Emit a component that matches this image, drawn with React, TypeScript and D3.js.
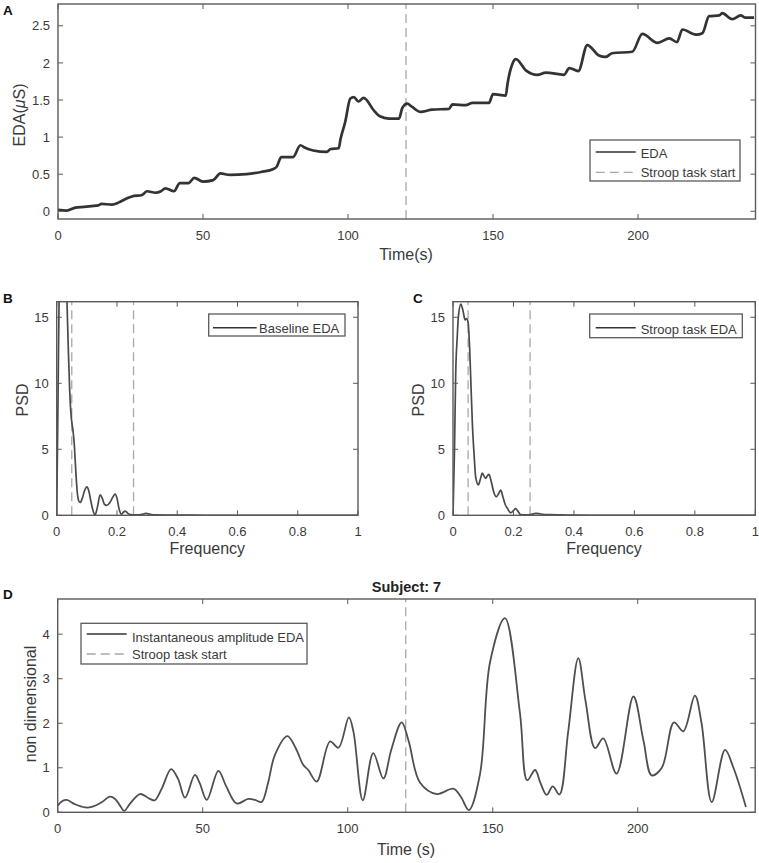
import React from 'react';
import * as d3 from 'd3';

const W = 759;
const H = 863;
const FONT = '"Liberation Sans", Arial, Helvetica, sans-serif';
const TXT = '#3a3a3a';
const AX = '#5a5a5a';
const DASH = '#a8a8a8';

// ---------- Panel A: EDA time series ----------
const edaTime = [0, 3, 6, 9, 11.6, 13.9, 15, 18.6, 21, 23, 25.5, 29, 30.7, 33.6, 35.5, 37, 40, 42, 45, 47, 50, 53.5, 56, 59.3, 65, 70, 74.3, 75.4, 77, 81, 83.6, 85, 88, 92.7, 94, 96.8, 97.4, 99, 100.8, 102, 103.6, 105.4, 108.9, 111, 114, 117.6, 118.7, 120.4, 122, 125, 129, 134.8, 136, 140.6, 142.9, 148.6, 150, 154.4, 155, 156.7, 157.9, 161.3, 165.3, 168.2, 174.5, 176.3, 179.4, 182.5, 186.5, 188.8, 191, 198, 201.5, 206.7, 210.8, 213.4, 215.3, 220, 222.2, 224.5, 228, 229, 232.5, 235.4, 237.1, 240];
const edaValue = [0.02, 0.01, 0.05, 0.06, 0.07, 0.08, 0.1, 0.09, 0.12, 0.16, 0.2, 0.22, 0.27, 0.25, 0.27, 0.31, 0.27, 0.38, 0.38, 0.45, 0.4, 0.42, 0.51, 0.49, 0.5, 0.53, 0.57, 0.6, 0.73, 0.73, 0.89, 0.86, 0.82, 0.8, 0.84, 0.85, 0.97, 1.2, 1.52, 1.54, 1.48, 1.53, 1.36, 1.28, 1.25, 1.25, 1.39, 1.45, 1.41, 1.34, 1.37, 1.38, 1.44, 1.43, 1.46, 1.46, 1.58, 1.56, 1.72, 1.99, 2.05, 1.9, 1.84, 1.87, 1.84, 1.93, 1.89, 2.24, 2.1, 2.08, 2.13, 2.15, 2.39, 2.27, 2.33, 2.28, 2.45, 2.38, 2.4, 2.63, 2.64, 2.67, 2.59, 2.64, 2.61, 2.61];
const timeTicks = [0, 50, 100, 150, 200];
const edaTicks = [0, 0.5, 1, 1.5, 2, 2.5];
const stroopStart = 120;

// ---------- Panel B: Baseline PSD ----------
const freqB = [0, 0.004, 0.008, 0.015, 0.022, 0.028, 0.034, 0.038, 0.043, 0.048, 0.053, 0.058, 0.063, 0.068, 0.073, 0.078, 0.085, 0.093, 0.1, 0.106, 0.114, 0.12, 0.127, 0.135, 0.144, 0.151, 0.158, 0.166, 0.176, 0.187, 0.194, 0.2, 0.207, 0.215, 0.222, 0.228, 0.236, 0.245, 0.26, 0.28, 0.297, 0.31, 0.33, 0.37, 0.45, 0.55, 1];
const psdB = [0, 8, 16.5, 22, 23, 20, 16.3, 13, 9.5, 7.5, 6.6, 5.5, 3.5, 1.8, 1.1, 0.97, 1.3, 1.9, 2.15, 1.9, 1.0, 0.4, 0.03, 0.6, 1.55, 1.3, 0.85, 0.75, 0.95, 1.4, 1.6, 1.3, 0.5, 0.08, 0.25, 0.32, 0.15, 0.05, 0.03, 0.06, 0.15, 0.08, 0.03, 0.02, 0.01, 0, 0];

// ---------- Panel C: Stroop PSD ----------
const freqC = [0, 0.005, 0.009, 0.014, 0.018, 0.026, 0.033, 0.04, 0.045, 0.05, 0.055, 0.06, 0.064, 0.07, 0.075, 0.084, 0.09, 0.097, 0.102, 0.108, 0.114, 0.119, 0.127, 0.136, 0.143, 0.15, 0.158, 0.165, 0.173, 0.18, 0.19, 0.2, 0.207, 0.215, 0.224, 0.24, 0.26, 0.274, 0.29, 0.32, 0.36, 0.4, 0.5, 1];
const psdC = [0, 5, 10.8, 13.5, 15.1, 16.0, 15.5, 14.8, 14.9, 14.6, 12.7, 9.5, 7.0, 4.5, 2.9, 2.3, 2.7, 3.2, 3.0, 2.8, 3.0, 3.1, 2.5, 1.67, 1.4, 1.6, 1.9, 1.4, 0.8, 0.53, 0.2, 0.35, 0.5, 0.3, 0.05, 0.03, 0.08, 0.15, 0.1, 0.05, 0.03, 0.01, 0, 0];

const freqTicks = [0, 0.2, 0.4, 0.6, 0.8, 1];
const psdTicks = [0, 5, 10, 15];
const bandLimits = [0.05, 0.255];

// ---------- Panel D: Instantaneous amplitude ----------
const ampTime = [0, 1.5, 3.1, 6, 9.4, 11.7, 15, 18, 19.8, 21.5, 22.9, 25, 28.4, 31.8, 33.5, 36, 39.1, 41.5, 43.9, 47.3, 49, 51.4, 55.4, 58, 61.7, 65.7, 68, 70.3, 72.5, 74.9, 79.2, 82, 84.7, 86.4, 89.3, 93.9, 96.8, 100.4, 102, 105.2, 108.8, 112.3, 115, 118.6, 121, 124.9, 130.7, 136.4, 139, 141.8, 145.6, 149.1, 154.2, 159.4, 161.9, 164.6, 166.5, 168.6, 170.7, 173, 176, 179.5, 182, 185.3, 188.1, 192.7, 198.5, 202, 204.8, 208.3, 212.5, 215.7, 219.7, 222, 225.5, 230.1, 233, 237.3];
const ampValue = [0.15, 0.25, 0.28, 0.18, 0.11, 0.12, 0.22, 0.35, 0.3, 0.15, 0.03, 0.2, 0.41, 0.3, 0.27, 0.55, 0.97, 0.75, 0.33, 0.84, 0.65, 0.28, 0.93, 0.6, 0.2, 0.3, 0.28, 0.23, 0.65, 1.29, 1.71, 1.45, 1.06, 0.95, 0.69, 1.59, 1.45, 2.13, 1.8, 0.27, 1.33, 0.76, 1.4, 2.02, 1.6, 0.67, 0.41, 0.53, 0.35, 0.05, 0.85, 3.38, 4.36, 2.22, 0.72, 0.95, 0.65, 0.39, 0.58, 0.4, 1.8, 3.46, 2.5, 1.44, 1.66, 0.87, 2.6, 1.6, 0.83, 1.0, 2.02, 1.82, 2.62, 2.0, 0.23, 1.4, 1.0, 0.12];
const ampTicks = [0, 1, 2, 3, 4];

type AxesProps = {
  x: d3.ScaleLinear<number, number>;
  y: d3.ScaleLinear<number, number>;
  xTicks: number[];
  yTicks: number[];
};

function Axes({ x, y, xTicks, yTicks }: AxesProps) {
  const [x0, x1] = x.range();
  const [y0, y1] = y.range();
  return (
    <g>
      {xTicks.map((t) => (
        <g key={'x' + t}>
          <line x1={x(t)} x2={x(t)} y1={y0} y2={y0 - 5} stroke={AX} strokeWidth={1} />
          <line x1={x(t)} x2={x(t)} y1={y1} y2={y1 + 5} stroke={AX} strokeWidth={1} />
          <text x={x(t)} y={y0 + 21} textAnchor="middle" fontSize={13} fill={TXT}>{String(t)}</text>
        </g>
      ))}
      {yTicks.map((t) => (
        <g key={'y' + t}>
          <line x1={x0} x2={x0 + 5} y1={y(t)} y2={y(t)} stroke={AX} strokeWidth={1} />
          <line x1={x1} x2={x1 - 5} y1={y(t)} y2={y(t)} stroke={AX} strokeWidth={1} />
          <text x={x0 - 8} y={y(t) + 4.6} textAnchor="end" fontSize={13} fill={TXT}>{String(t)}</text>
        </g>
      ))}
      <rect x={x0} y={y1} width={x1 - x0} height={y0 - y1} fill="none" stroke={AX} strokeWidth={1.4} />
    </g>
  );
}

function linePath(xs: number[], ys: number[], x: any, y: any, curve: any) {
  const pts: [number, number][] = xs.map((v, i) => [v, ys[i]]);
  return d3.line<[number, number]>().x((d) => x(d[0])).y((d) => y(d[1])).curve(curve)(pts) || '';
}

export default function App() {
  const xA = d3.scaleLinear().domain([0, 240.5]).range([58, 755.5]);
  const yA = d3.scaleLinear().domain([-0.104, 2.794]).range([219, 4]);
  const xB = d3.scaleLinear().domain([0, 1]).range([56.7, 358]);
  const yB = d3.scaleLinear().domain([0, 16.18]).range([515.3, 301.7]);
  const xC = d3.scaleLinear().domain([0, 1]).range([453, 755.3]);
  const yC = d3.scaleLinear().domain([0, 16.18]).range([515.3, 301.7]);
  const xD = d3.scaleLinear().domain([0, 240.5]).range([57.7, 755.2]);
  const yD = d3.scaleLinear().domain([0, 4.79]).range([812.3, 599]);

  const clipRect = (id: string, x: any, y: any) => {
    const [x0, x1] = x.range();
    const [y0, y1] = y.range();
    return (
      <clipPath id={id}>
        <rect x={x0} y={y1} width={x1 - x0} height={y0 - y1} />
      </clipPath>
    );
  };

  return (
    <svg width={W} height={H} style={{ position: 'absolute', left: 0, top: 0, background: '#fff' }} fontFamily={FONT}>
      <defs>
        {clipRect('clipA', xA, yA)}
        {clipRect('clipB', xB, yB)}
        {clipRect('clipC', xC, yC)}
        {clipRect('clipD', xD, yD)}
      </defs>
      <rect x={0} y={0} width={W} height={H} fill="#fff" />

      {/* Panel A */}
      <text x={3} y={15} fontSize={13.5} fontWeight="bold" fill="#111">A</text>
      <g clipPath="url(#clipA)">
        <line x1={xA(stroopStart)} x2={xA(stroopStart)} y1={yA.range()[0]} y2={yA.range()[1]} stroke={DASH} strokeWidth={1.3} strokeDasharray="9,5" />
        <path d={linePath(edaTime, edaValue, xA, yA, d3.curveMonotoneX)} fill="none" stroke="#333" strokeWidth={2.7} strokeLinejoin="round" />
      </g>
      <Axes x={xA} y={yA} xTicks={timeTicks} yTicks={edaTicks} />
      <text transform="translate(25,115) rotate(-90)" textAnchor="middle" fontSize={16} fill={TXT}>EDA(<tspan fontStyle="italic">μ</tspan>S)</text>
      <text x={406} y={260} textAnchor="middle" fontSize={16} fill={TXT}>Time(s)</text>
      <g>
        <rect x={590} y={140} width={150} height={41} fill="#fff" stroke={AX} strokeWidth={1.3} />
        <line x1={595.7} x2={635.7} y1={152} y2={152} stroke="#333" strokeWidth={1.5} />
        <text x={640.7} y={158} fontSize={13} fill={TXT}>EDA</text>
        <line x1={595.7} x2={635.7} y1={172.3} y2={172.3} stroke={DASH} strokeWidth={1.3} strokeDasharray="9,5" />
        <text x={640.7} y={176.7} fontSize={13} fill={TXT}>Stroop task start</text>
      </g>

      {/* Panel B */}
      <text x={3} y={303} fontSize={13.5} fontWeight="bold" fill="#111">B</text>
      <g clipPath="url(#clipB)">
        {bandLimits.map((f) => (
          <line key={'bb' + f} x1={xB(f)} x2={xB(f)} y1={yB.range()[0]} y2={yB.range()[1]} stroke={DASH} strokeWidth={1.3} strokeDasharray="9,5" />
        ))}
        <path d={linePath(freqB, psdB, xB, yB, d3.curveMonotoneX)} fill="none" stroke="#4a4a4a" strokeWidth={1.7} />
      </g>
      <Axes x={xB} y={yB} xTicks={freqTicks} yTicks={psdTicks} />
      <text transform="translate(28,400) rotate(-90)" textAnchor="middle" fontSize={16} fill={TXT}>PSD</text>
      <text x={207.3} y={554} textAnchor="middle" fontSize={16} fill={TXT}>Frequency</text>
      <g>
        <rect x={208.7} y={314} width={136.3} height={22} fill="#fff" stroke={AX} strokeWidth={1.3} />
        <line x1={213} x2={256.7} y1={327.7} y2={327.7} stroke="#333" strokeWidth={1.5} />
        <text x={259} y={333.3} fontSize={13} fill={TXT}>Baseline EDA</text>
      </g>

      {/* Panel C */}
      <text x={413} y={303} fontSize={13.5} fontWeight="bold" fill="#111">C</text>
      <g clipPath="url(#clipC)">
        {bandLimits.map((f) => (
          <line key={'bc' + f} x1={xC(f)} x2={xC(f)} y1={yC.range()[0]} y2={yC.range()[1]} stroke={DASH} strokeWidth={1.3} strokeDasharray="9,5" />
        ))}
        <path d={linePath(freqC, psdC, xC, yC, d3.curveMonotoneX)} fill="none" stroke="#4a4a4a" strokeWidth={1.7} />
      </g>
      <Axes x={xC} y={yC} xTicks={freqTicks} yTicks={psdTicks} />
      <text transform="translate(424,400) rotate(-90)" textAnchor="middle" fontSize={16} fill={TXT}>PSD</text>
      <text x={604} y={554} textAnchor="middle" fontSize={16} fill={TXT}>Frequency</text>
      <g>
        <rect x={589.7} y={314} width={152.6} height={23.7} fill="#fff" stroke={AX} strokeWidth={1.3} />
        <line x1={595.7} x2={635.7} y1={327.7} y2={327.7} stroke="#333" strokeWidth={1.5} />
        <text x={640.7} y={333.5} fontSize={13} fill={TXT}>Stroop task EDA</text>
      </g>

      {/* Panel D */}
      <text x={3} y={599} fontSize={13.5} fontWeight="bold" fill="#111">D</text>
      <text x={406.5} y={592} textAnchor="middle" fontSize={14.5} fontWeight="bold" fill="#222">Subject: 7</text>
      <g clipPath="url(#clipD)">
        <line x1={xD(stroopStart)} x2={xD(stroopStart)} y1={yD.range()[0]} y2={yD.range()[1]} stroke={DASH} strokeWidth={1.3} strokeDasharray="9,5" />
        <path d={linePath(ampTime, ampValue, xD, yD, d3.curveCatmullRom.alpha(0.5))} fill="none" stroke="#4f4f4f" strokeWidth={1.8} />
      </g>
      <Axes x={xD} y={yD} xTicks={timeTicks} yTicks={ampTicks} />
      <text transform="translate(36,704) rotate(-90)" textAnchor="middle" fontSize={16} fill={TXT}>non dimensional</text>
      <text x={406} y={855} textAnchor="middle" fontSize={16} fill={TXT}>Time (s)</text>
      <g>
        <rect x={81} y={623.3} width={226} height={40.7} fill="#fff" stroke={AX} strokeWidth={1.3} />
        <line x1={86.7} x2={126.7} y1={634} y2={634} stroke="#333" strokeWidth={1.5} />
        <text x={132} y={641.7} fontSize={13} fill={TXT}>Instantaneous amplitude EDA</text>
        <line x1={86.7} x2={126.7} y1={654} y2={654} stroke={DASH} strokeWidth={1.3} strokeDasharray="9,5" />
        <text x={132} y={659} fontSize={13} fill={TXT}>Stroop task start</text>
      </g>
    </svg>
  );
}
